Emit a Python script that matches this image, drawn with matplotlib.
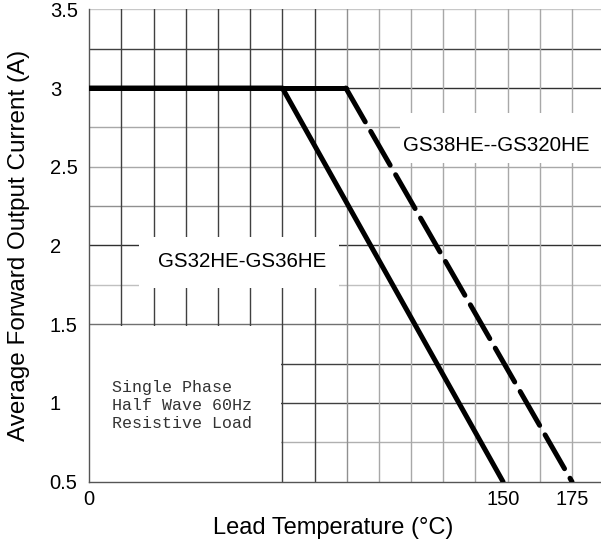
import matplotlib
matplotlib.use("Agg")
import matplotlib.pyplot as plt
from matplotlib.patches import Rectangle

# ---- data ----
temp_a = [0, 70, 150]
curr_a = [3.0, 3.0, 0.5]
temp_b = [0, 93, 175]
curr_b = [3.0, 3.0, 0.5]
label_a = "GS32HE-GS36HE"
label_b = "GS38HE--GS320HE"
note = "Single Phase\nHalf Wave 60Hz\nResistive Load"
xticks = [0, 150, 175]
xtick_labels = ["0", "150", "175"]
yticks = [0.5, 1, 1.5, 2, 2.5, 3, 3.5]
ytick_labels = ["0.5", "1", "1.5", "2", "2.5", "3", "3.5"]
xlabel = "Lead Temperature (°C)"
ylabel = "Average Forward Output Current (A)"

plt.rcParams['font.family'] = ['Liberation Sans', 'DejaVu Sans']

W, H = 601, 545
fig = plt.figure(figsize=(W / 100, H / 100), dpi=100)
x0, y_bot, y_top, x175 = 89.3, 481.7, 9.3, 572.0
ax = fig.add_axes([x0 / W, (H - y_bot) / H, (W - x0) / W, (y_bot - y_top) / H])
xmax = 175 * (W - x0) / (x175 - x0)
ax.set_xlim(0, xmax)
ax.set_ylim(0.5, 3.5)

# ---- grid (drawn manually to mimic the scanned look) ----
hlevels = [0.75, 1.0, 1.25, 1.5, 1.75, 2.0, 2.25, 2.5, 2.75, 3.0, 3.25, 3.5]
hcolors = ['#b0b0b0', '#404040', '#404040', '#707070', '#c0c0c0', '#303030',
           '#909090', '#a8a8a8', '#a8a8a8', '#303030', '#404040', '#c8c8c8']
for lv, c in zip(hlevels, hcolors):
    ax.axhline(lv, color=c, lw=1.0, zorder=1)
step = 175 / 15
for k in range(1, 16):
    c = '#404040' if k <= 7 else ('#909090' if k == 8 else '#a8a8a8')
    ax.axvline(k * step, color=c, lw=1.0, zorder=1)

# white label boxes interrupting the grid
ax.add_patch(Rectangle((18.0, 1.73), 72.5, 0.325, facecolor='white', edgecolor='none', zorder=1.5))
ax.add_patch(Rectangle((112.7, 2.523), 73.0, 0.318, facecolor='white', edgecolor='none', zorder=1.5))
ax.add_patch(Rectangle((0, 0.5), 69.4, 0.99, facecolor='white', edgecolor='none', zorder=1.5))

# ---- curves ----
lw = 3.6
ax.plot(temp_a, curr_a, color='black', lw=lw, solid_capstyle='round',
        solid_joinstyle='round', zorder=3)
ax.plot(temp_b[:2], curr_b[:2], color='black', lw=lw, solid_capstyle='round', zorder=3)
ax.plot(temp_b[1:], curr_b[1:], color='black', lw=lw, dashes=(7.8, 2.2),
        dash_capstyle='round', zorder=3)

# ---- texts ----
ax.text(55.3, 1.897, label_a, fontsize=14.8, ha='center', va='center', zorder=4)
ax.text(147.4, 2.633, label_b, fontsize=14.8, ha='center', va='center', zorder=4)
ax.text(8.1, 0.987, note, family=['Liberation Mono', 'DejaVu Sans Mono'], fontsize=12,
        color='#333333', ha='left', va='center', linespacing=1.25, zorder=4)

# ---- axes styling ----
for side in ['top', 'right']:
    ax.spines[side].set_visible(False)
for side in ['left', 'bottom']:
    ax.spines[side].set_color('#555555')
    ax.spines[side].set_linewidth(1.0)
    ax.spines[side].set_zorder(2.5)

ax.set_xticks(xticks)
ax.set_xticklabels(xtick_labels)
ax.set_yticks(yticks)
ax.set_yticklabels(ytick_labels)
ax.tick_params(axis='both', length=0, labelsize=14.5, colors='black')
ax.tick_params(axis='x', pad=6.2)
ax.tick_params(axis='y', pad=28.5)
for t in ax.get_yticklabels():
    t.set_horizontalalignment('left')

ax.set_xlabel(xlabel, fontsize=17)
ax.xaxis.label.set_va('center')
ax.xaxis.set_label_coords((333 - x0) / (W - x0), (y_bot - 528) / (y_bot - y_top))
ax.set_ylabel(ylabel, fontsize=17.5)
ax.yaxis.label.set_va('center')
ax.yaxis.set_label_coords((19 - x0) / (W - x0), (y_bot - 245) / (y_bot - y_top))

fig.savefig("out.png", dpi=100)
